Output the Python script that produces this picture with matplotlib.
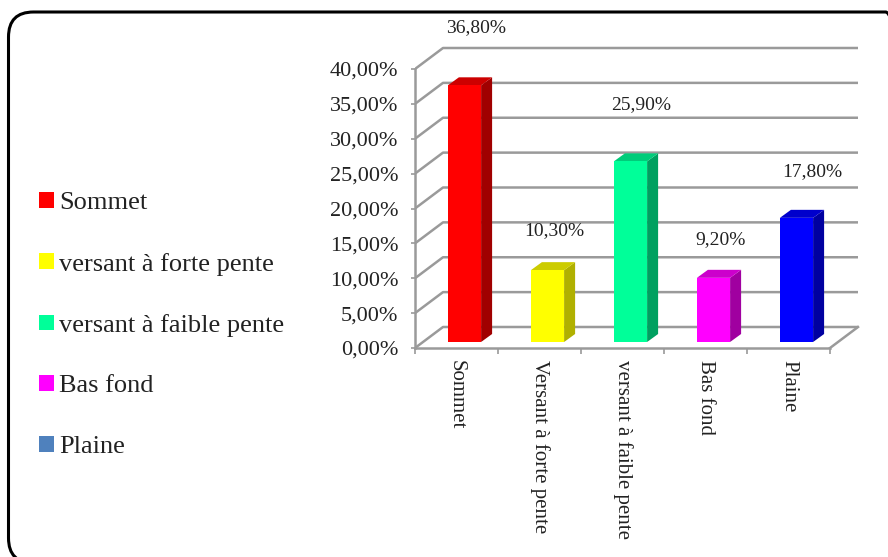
"""
Recreation of a 3D-style Excel column chart (relief distribution).
The 3D look is faked with flat polygons offset in data units.
"""

import matplotlib
matplotlib.use("Agg")
import matplotlib.pyplot as plt
from matplotlib.patches import Patch, Polygon, FancyBboxPatch

CATEGORIES = ["Sommet", "Versant à forte pente", "versant à faible pente", "Bas fond", "Plaine"]
LEGEND_LABELS = ["Sommet", "versant à forte pente", "versant à faible pente", "Bas fond", "Plaine"]
VALUES = [36.8, 10.3, 25.9, 9.2, 17.8]
Y_TICKS = [0, 5, 10, 15, 20, 25, 30, 35, 40]

FRONT_COLORS = ["#ff0000", "#ffff00", "#00ff99", "#ff00ff", "#0000ff"]
SIDE_COLORS = ["#a00000", "#b0b000", "#00a060", "#a000a0", "#0000a0"]
TOP_COLORS = ["#cc0000", "#cccc00", "#00cc7a", "#cc00cc", "#0000cc"]
LEGEND_COLORS = ["#ff0000", "#ffff00", "#00ff99", "#ff00ff", "#4f81bd"]

# data-label offsets (pixels) from the top centre of each bar's front face
LABEL_OFFSETS = [(12, 58), (7, 40), (11, 57), (7, 38), (16, 46)]

W, H, DPI = 888, 557, 100
PX_PER_CAT = 83.0
PX_PER_PCT = 6.975

# wall / floor depth, in data units
DX = 28 / PX_PER_CAT
DY = 21 / PX_PER_PCT
# bar placement inside the depth
BAR_W = 0.4
BOX = 8 / PX_PER_CAT
BOY = 6 / PX_PER_PCT
BDX = 11 / PX_PER_CAT
BDY = 8 / PX_PER_PCT

GRID = "#9a9a9a"
SERIF = ["Liberation Serif", "DejaVu Serif"]

plt.rcParams["font.family"] = SERIF

fig = plt.figure(figsize=(W / DPI, H / DPI), dpi=DPI)

# rounded frame around the chart area (bottom and right run off the picture)
frame = FancyBboxPatch((0.085, -0.06), 9.02, 5.51,
                       boxstyle="round,pad=0,rounding_size=0.25",
                       transform=fig.dpi_scale_trans, fill=False,
                       edgecolor="black", linewidth=2.2, clip_on=False)
fig.patches.append(frame)

x0_px, y0_px = 415, 348
ax_w_px, ax_h_px = 445, 303
ax = fig.add_axes([x0_px / W, (H - y0_px) / H, ax_w_px / W, ax_h_px / H])
ax.set_xlim(-0.5, -0.5 + ax_w_px / PX_PER_CAT)
ax.set_ylim(0, ax_h_px / PX_PER_PCT)
ax.patch.set_alpha(0)

n = len(VALUES)
x_left, x_right = -0.5, n - 0.5

# back wall gridlines + left wall diagonals
for v in Y_TICKS:
    ax.plot([x_left, x_left + DX, x_right + DX], [v, v + DY, v + DY],
            color=GRID, lw=1.8, solid_capstyle="butt", zorder=1)
# floor right edge
ax.plot([x_right, x_right + DX], [0, DY], color=GRID, lw=1.8, zorder=1)

# bars: front face, side face, top face
xs = list(range(n))
for i, v in enumerate(VALUES):
    xl = xs[i] - BAR_W / 2 + BOX
    xr = xs[i] + BAR_W / 2 + BOX
    b = BOY
    side = Polygon([(xr, b), (xr + BDX, b + BDY), (xr + BDX, b + v + BDY), (xr, b + v)],
                   closed=True, facecolor=SIDE_COLORS[i], edgecolor="none", zorder=3)
    top = Polygon([(xl, b + v), (xl + BDX, b + v + BDY), (xr + BDX, b + v + BDY), (xr, b + v)],
                  closed=True, facecolor=TOP_COLORS[i], edgecolor="none", zorder=3)
    ax.add_patch(side)
    ax.add_patch(top)
ax.bar([x + BOX for x in xs], VALUES, width=BAR_W, bottom=BOY,
       color=FRONT_COLORS, edgecolor="none", zorder=4)

# data labels
for i, v in enumerate(VALUES):
    dxp, dyp = LABEL_OFFSETS[i]
    ax.annotate(f"{v:.2f}%".replace(".", ","), xy=(xs[i] + BOX, BOY + v),
                xytext=(dxp, dyp), textcoords="offset pixels",
                ha="center", va="center", fontsize=14, color="#222222")

# axes lines / ticks
for side_name in ["top", "right"]:
    ax.spines[side_name].set_visible(False)
ax.spines["left"].set_bounds(0, 40)
ax.spines["bottom"].set_bounds(x_left, x_right)
for side_name in ["left", "bottom"]:
    ax.spines[side_name].set_color(GRID)
    ax.spines[side_name].set_linewidth(1.8)
    ax.spines[side_name].set_zorder(2)

ax.set_yticks(Y_TICKS)
ax.set_yticklabels([f"{t:.2f}%".replace(".", ",") for t in Y_TICKS])
ax.tick_params(axis="y", length=3, width=1.2, color=GRID, pad=9,
               labelsize=16, labelcolor="#222222")

ax.set_xticks([x + 0.5 for x in [-1] + xs])
ax.set_xticklabels([])
ax.tick_params(axis="x", which="major", length=4, width=1.2, color=GRID)
ax.set_xticks(xs, minor=True)
ax.set_xticklabels(CATEGORIES, minor=True, rotation=270, ha="center", va="top")
ax.tick_params(axis="x", which="minor", length=0, pad=9,
               labelsize=15, labelcolor="#222222")

# legend on the left
handles = [Patch(facecolor=c, edgecolor="none") for c in LEGEND_COLORS]
fig.legend(handles, LEGEND_LABELS, loc="center left",
           bbox_to_anchor=(39 / W, (H - 325) / H), frameon=False,
           fontsize=19, handlelength=0.55, handleheight=0.55,
           handletextpad=0.22, labelspacing=1.45, borderpad=0,
           borderaxespad=0, labelcolor="#222222")

fig.savefig("out.png", dpi=DPI)
